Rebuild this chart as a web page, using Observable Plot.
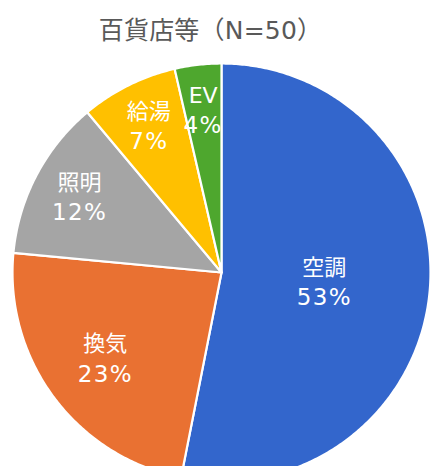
<!DOCTYPE html>
<html>
<head>
<meta charset="utf-8">
<script src="https://cdn.jsdelivr.net/npm/d3@7"></script>
<script src="https://cdn.jsdelivr.net/npm/@observablehq/plot@0.6"></script>
<style>
  html, body { margin: 0; padding: 0; background: #fff; overflow: hidden; }
  #wrap { width: 431px; height: 466px; position: relative; overflow: hidden; }
  #title { height: 56px; padding-top: 17px; padding-right: 10px; box-sizing: border-box; text-align: center;
           font-family: "DejaVu Sans", "Noto Sans CJK JP", sans-serif; font-size: 25px; line-height: 28px;
           color: #595959; letter-spacing: 0.2px; white-space: nowrap; }
  #chart svg { overflow: hidden; display: block; }
</style>
</head>
<body>
<div id="wrap">
  <div id="title">百貨店等（N=50）</div>
  <div id="chart"></div>
</div>
<script>
// Data
const categories = ["空調", "換気", "照明", "給湯", "EV"];
const values = [53.1, 23.4, 12.4, 7.5, 3.6];
const percentLabels = ["53%", "23%", "12%", "7%", "4%"];
const colors = ["#3366CC", "#E97132", "#A5A5A5", "#FFC000", "#4EA72E"];

const table = categories.map((c, i) => ({cat: c, value: values[i], label: percentLabels[i]}));
const arcs = d3.pie().sort(null).value(d => d.value)(table);

// slice polygons in unit-circle coordinates (angle clockwise from top)
const poly = [];
for (const a of arcs) {
  const n = Math.max(2, Math.ceil((a.endAngle - a.startAngle) / 0.01));
  poly.push({cat: a.data.cat, x: 0, y: 0});
  for (let k = 0; k <= n; k++) {
    const t = a.startAngle + (a.endAngle - a.startAngle) * k / n;
    poly.push({cat: a.data.cat, x: Math.sin(t), y: Math.cos(t)});
  }
  poly.push({cat: a.data.cat, x: 0, y: 0});
}

// labels at mid-angle; bigger slices get labels nearer the centre
const labels = arcs.map(a => {
  const m = (a.startAngle + a.endAngle) / 2;
  const r = Math.min(0.78, 0.85 - 0.0067 * a.data.value);
  return {cat: a.data.cat, label: a.data.label, x: r * Math.sin(m), y: r * Math.cos(m)};
});

const font = "DejaVu Sans, Noto Sans CJK JP, sans-serif";
const W = 431, H = 410;
const chart = Plot.plot({
  width: W,
  height: H,
  margin: 0,
  x: {domain: [-1, 1], range: [12, 430], axis: null},
  y: {domain: [-1, 1], range: [425, 7], axis: null},
  color: {domain: categories, range: colors},
  style: {background: "white"},
  marks: [
    Plot.line(poly, {x: "x", y: "y", z: "cat", fill: "cat", stroke: "white", strokeWidth: 2.2, strokeLinejoin: "round"}),
    Plot.text(labels, {x: "x", y: "y", text: "cat", dy: -15, fill: "white", fontSize: 22, fontFamily: font}),
    Plot.text(labels, {x: "x", y: "y", text: "label", dy: 15, fill: "white", fontSize: 23, fontFamily: font})
  ]
});
chart.querySelectorAll("text").forEach(t => { if (t.textContent.includes("%")) t.style.letterSpacing = "1.4px"; });
document.getElementById("chart").appendChild(chart);
</script>
</body>
</html>
